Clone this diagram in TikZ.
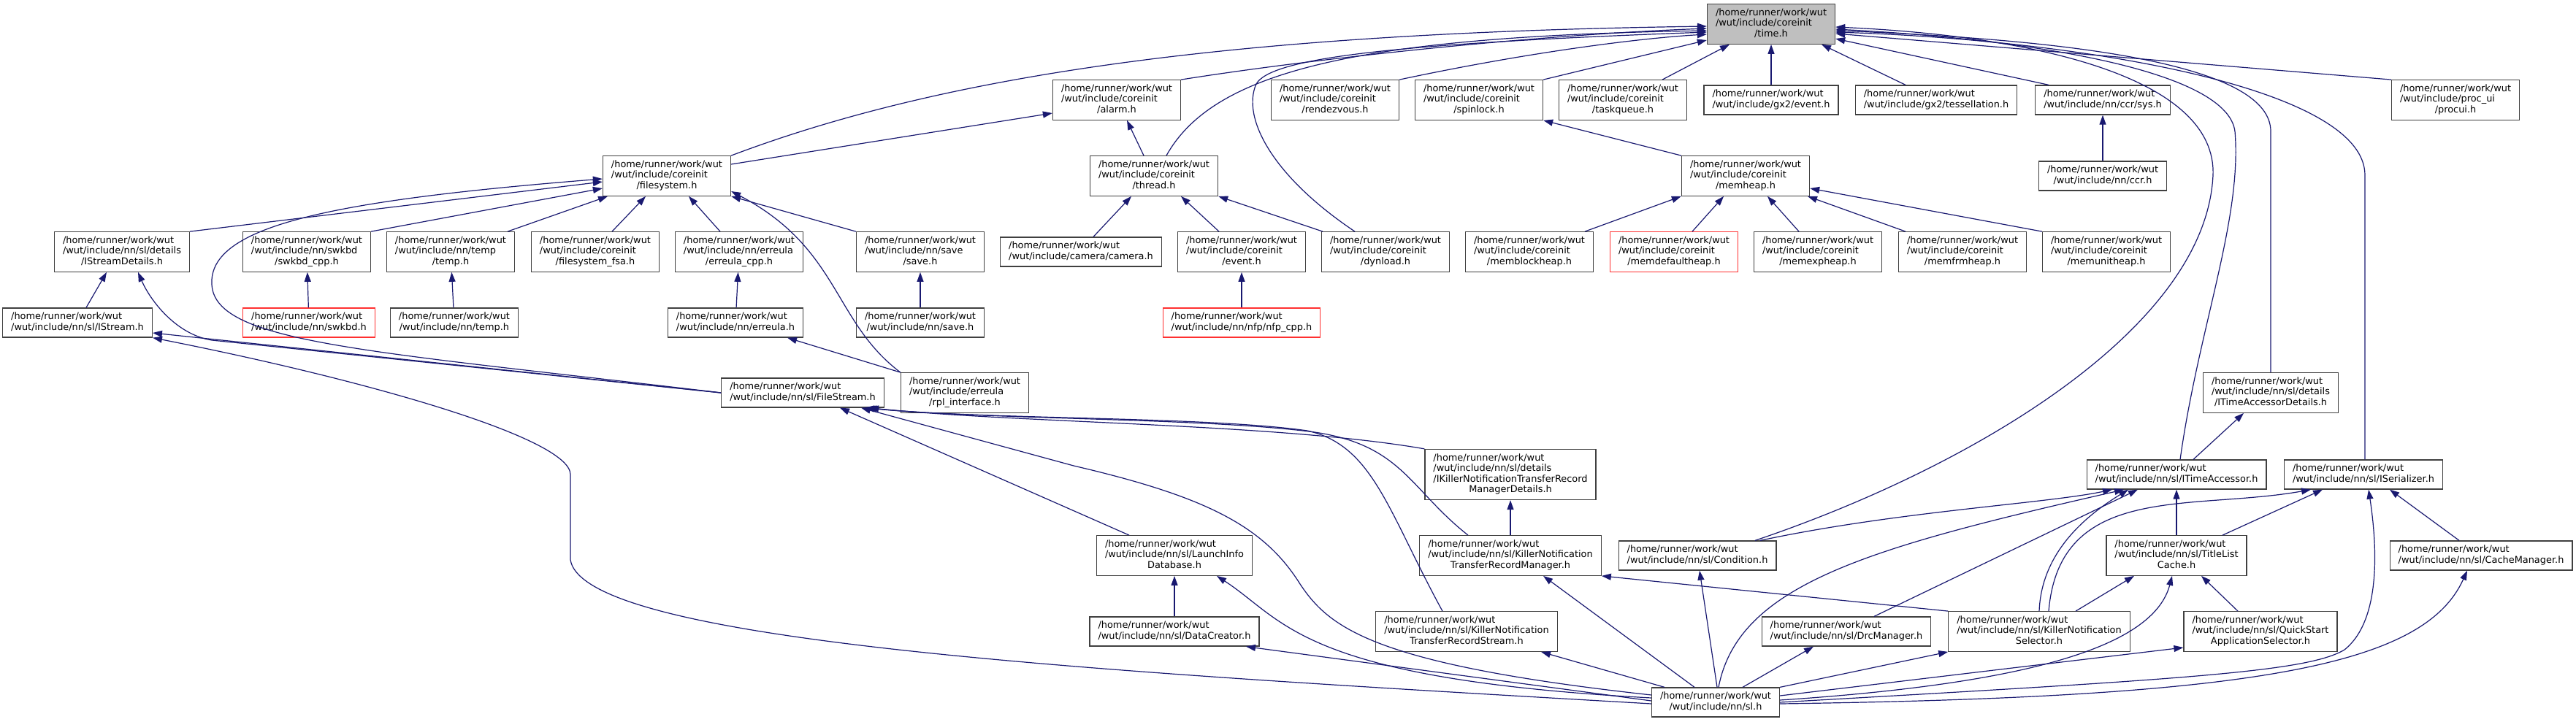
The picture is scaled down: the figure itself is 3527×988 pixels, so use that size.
\documentclass[tikz,border=0pt]{standalone}
\usepackage{fontspec}
\newfontfamily\graphfont{DejaVu Sans}
\usepackage{tikz}
\usetikzlibrary{arrows.meta}
\definecolor{edgeblue}{HTML}{191970}
\definecolor{boxgrey}{HTML}{404040}
\definecolor{maingrey}{HTML}{BFBFBF}
\definecolor{cutred}{HTML}{FF3030}
% Zeilen links, letzte Zeile zentriert
\newcommand{\flbl}[2]{\begin{tabular}{@{}l@{}}#1\\\multicolumn{1}{@{}c@{}}{#2}\end{tabular}}

\begin{document}
\begin{tikzpicture}[x=1pt,y=-1pt,
    file/.style={draw=boxgrey, line width=1.3pt, fill=white, inner xsep=11.5pt, inner ysep=5.5pt,
      font={\graphfont\fontsize{12.9pt}{14.5pt}\selectfont}},
    cutfile/.style={file, draw=cutred},
    mainfile/.style={file, fill=maingrey},
    inc/.style={draw=edgeblue, line width=1.2pt, -{Triangle[length=13pt,width=9pt,fill=edgeblue]}}]
  \useasboundingbox (0,0) rectangle (3527,988);
  % Wurzel
  \node[mainfile] (time) at (2425,33) {\flbl{/home/runner/work/wut\\/wut/include/coreinit}{/time.h}};
  % Ebene 1
  \node[file] (alarm) at (1529,137) {\flbl{/home/runner/work/wut\\/wut/include/coreinit}{/alarm.h}};
  \node[file] (rendezvous) at (1828,137) {\flbl{/home/runner/work/wut\\/wut/include/coreinit}{/rendezvous.h}};
  \node[file] (spinlock) at (2025,137) {\flbl{/home/runner/work/wut\\/wut/include/coreinit}{/spinlock.h}};
  \node[file] (taskqueue) at (2222,137) {\flbl{/home/runner/work/wut\\/wut/include/coreinit}{/taskqueue.h}};
  \node[file] (gxevent) at (2425,137) {\flbl{/home/runner/work/wut}{/wut/include/gx2/event.h}};
  \node[file] (tessel) at (2651,137) {\flbl{/home/runner/work/wut}{/wut/include/gx2/tessellation.h}};
  \node[file] (ccrsys) at (2879,137) {\flbl{/home/runner/work/wut}{/wut/include/nn/ccr/sys.h}};
  \node[file] (procui) at (3362,137) {\flbl{/home/runner/work/wut\\/wut/include/proc\_ui}{/procui.h}};
  % Ebene 2
  \node[file] (filesystem) at (913,241) {\flbl{/home/runner/work/wut\\/wut/include/coreinit}{/filesystem.h}};
  \node[file] (thread) at (1580,241) {\flbl{/home/runner/work/wut\\/wut/include/coreinit}{/thread.h}};
  \node[file] (memheap) at (2390,241) {\flbl{/home/runner/work/wut\\/wut/include/coreinit}{/memheap.h}};
  \node[file] (ccr) at (2879,241) {\flbl{/home/runner/work/wut}{/wut/include/nn/ccr.h}};
  % Ebene 3
  \node[file] (istreamdet) at (167,345) {\flbl{/home/runner/work/wut\\/wut/include/nn/sl/details}{/IStreamDetails.h}};
  \node[file] (swkbdcpp) at (420,345) {\flbl{/home/runner/work/wut\\/wut/include/nn/swkbd}{/swkbd\_cpp.h}};
  \node[file] (temptemp) at (617,345) {\flbl{/home/runner/work/wut\\/wut/include/nn/temp}{/temp.h}};
  \node[file] (fsa) at (815,345) {\flbl{/home/runner/work/wut\\/wut/include/coreinit}{/filesystem\_fsa.h}};
  \node[file] (erreulacpp) at (1012,345) {\flbl{/home/runner/work/wut\\/wut/include/nn/erreula}{/erreula\_cpp.h}};
  \node[file] (savesave) at (1260,345) {\flbl{/home/runner/work/wut\\/wut/include/nn/save}{/save.h}};
  \node[file] (camera) at (1480,345) {\flbl{/home/runner/work/wut}{/wut/include/camera/camera.h}};
  \node[file] (cevent) at (1700,345) {\flbl{/home/runner/work/wut\\/wut/include/coreinit}{/event.h}};
  \node[file] (dynload) at (1897,345) {\flbl{/home/runner/work/wut\\/wut/include/coreinit}{/dynload.h}};
  \node[file] (memblock) at (2094,345) {\flbl{/home/runner/work/wut\\/wut/include/coreinit}{/memblockheap.h}};
  \node[cutfile] (memdefault) at (2292,345) {\flbl{/home/runner/work/wut\\/wut/include/coreinit}{/memdefaultheap.h}};
  \node[file] (memexp) at (2489,345) {\flbl{/home/runner/work/wut\\/wut/include/coreinit}{/memexpheap.h}};
  \node[file] (memfrm) at (2687,345) {\flbl{/home/runner/work/wut\\/wut/include/coreinit}{/memfrmheap.h}};
  \node[file] (memunit) at (2884,345) {\flbl{/home/runner/work/wut\\/wut/include/coreinit}{/memunitheap.h}};
  % Ebene 4
  \node[file] (istream) at (106,442) {\flbl{/home/runner/work/wut}{/wut/include/nn/sl/IStream.h}};
  \node[cutfile] (swkbd) at (423,442) {\flbl{/home/runner/work/wut}{/wut/include/nn/swkbd.h}};
  \node[file] (nntemp) at (622,442) {\flbl{/home/runner/work/wut}{/wut/include/nn/temp.h}};
  \node[file] (erreula) at (1007,442) {\flbl{/home/runner/work/wut}{/wut/include/nn/erreula.h}};
  \node[file] (nnsave) at (1260,442) {\flbl{/home/runner/work/wut}{/wut/include/nn/save.h}};
  \node[cutfile] (nfpcpp) at (1700,442) {\flbl{/home/runner/work/wut}{/wut/include/nn/nfp/nfp\_cpp.h}};
  % Ebene 5
  \node[file] (filestream) at (1099,538) {\flbl{/home/runner/work/wut}{/wut/include/nn/sl/FileStream.h}};
  \node[file] (rpl) at (1321,538) {\flbl{/home/runner/work/wut\\/wut/include/erreula}{/rpl\_interface.h}};
  \node[file] (timeaccdet) at (3109,538) {\flbl{/home/runner/work/wut\\/wut/include/nn/sl/details}{/ITimeAccessorDetails.h}};
  % Ebene 6
  \node[file] (kntrmdet) at (2068,650) {\flbl{/home/runner/work/wut\\/wut/include/nn/sl/details\\/IKillerNotificationTransferRecord}{ManagerDetails.h}};
  \node[file] (timeacc) at (2980,650) {\flbl{/home/runner/work/wut}{/wut/include/nn/sl/ITimeAccessor.h}};
  \node[file] (serializer) at (3236,650) {\flbl{/home/runner/work/wut}{/wut/include/nn/sl/ISerializer.h}};
  % Ebene 7
  \node[file] (launchinfo) at (1608,761) {\flbl{/home/runner/work/wut\\/wut/include/nn/sl/LaunchInfo}{Database.h}};
  \node[file] (kntrmanager) at (2068,761) {\flbl{/home/runner/work/wut\\/wut/include/nn/sl/KillerNotification}{TransferRecordManager.h}};
  \node[file] (condition) at (2324,761) {\flbl{/home/runner/work/wut}{/wut/include/nn/sl/Condition.h}};
  \node[file] (titlelist) at (2980,761) {\flbl{/home/runner/work/wut\\/wut/include/nn/sl/TitleList}{Cache.h}};
  \node[file] (cachemanager) at (3397,761) {\flbl{/home/runner/work/wut}{/wut/include/nn/sl/CacheManager.h}};
  % Ebene 8
  \node[file] (datacreator) at (1608,865) {\flbl{/home/runner/work/wut}{/wut/include/nn/sl/DataCreator.h}};
  \node[file] (kntrstream) at (2008,865) {\flbl{/home/runner/work/wut\\/wut/include/nn/sl/KillerNotification}{TransferRecordStream.h}};
  \node[file] (drcmanager) at (2528,865) {\flbl{/home/runner/work/wut}{/wut/include/nn/sl/DrcManager.h}};
  \node[file] (knselector) at (2792,865) {\flbl{/home/runner/work/wut\\/wut/include/nn/sl/KillerNotification}{Selector.h}};
  \node[file] (quickstart) at (3095,865) {\flbl{/home/runner/work/wut\\/wut/include/nn/sl/QuickStart}{ApplicationSelector.h}};
  % Ebene 9
  \node[file] (sl) at (2349,962) {\flbl{/home/runner/work/wut}{/wut/include/nn/sl.h}};

  % Kanten nach time.h
  \draw[inc] (filesystem.north east) .. controls (1300,100) and (1700,45) .. ([yshift=-3pt]time.west);
  \draw[inc] (alarm.north east) .. controls (1800,80) and (2100,48) .. ([yshift=-6pt]time.west);
  \draw[inc] ([xshift=17pt]thread.north) .. controls (1660,100) and (1850,50) .. ([yshift=-9pt]time.west);
  \draw[inc] ([xshift=-42pt]dynload.north) .. controls (1740,240) and (1700,160) .. (1720,115)
    .. controls (1740,80) and (1900,60) .. ([yshift=-11pt]time.west);
  \draw[inc] (rendezvous.north east) .. controls (2100,70) and (2250,52) .. ([yshift=-14pt]time.west);
  \draw[inc] (spinlock.north east) -- ([yshift=-22pt]time.west);
  \draw[inc] ([xshift=54pt]taskqueue.north) -- ([xshift=-57pt]time.south);
  \draw[inc] (gxevent) -- (time);
  \draw[inc] ([xshift=-42pt]tessel.north) -- ([xshift=69pt]time.south);
  \draw[inc] ([xshift=-74pt]ccrsys.north) -- ([yshift=-20pt]time.east);
  \draw[inc] (procui.north west) -- ([yshift=-13pt]time.east);
  \draw[inc] ([xshift=79pt]condition.north) .. controls (2700,640) and (3020,450) .. (3030,240)
    .. controls (3035,110) and (2800,50) .. ([yshift=-4pt]time.east);
  \draw[inc] ([xshift=5pt]timeacc.north) .. controls (3010,450) and (3070,300) .. (3060,180)
    .. controls (3050,100) and (2800,55) .. ([yshift=-7pt]time.east);
  \draw[inc] (timeaccdet.north) -- (3109,180) .. controls (3109,90) and (2850,55) .. ([yshift=-9pt]time.east);
  \draw[inc] ([xshift=2pt]serializer.north) -- (3238,240) .. controls (3238,120) and (2850,55) .. ([yshift=-11pt]time.east);

  % alarm.h, filesystem.h, thread.h
  \draw[inc] ([yshift=16pt]filesystem.east) -- ([yshift=-18pt]alarm.west);
  \draw[inc] ([xshift=-14pt]thread.north) -- ([xshift=14pt]alarm.south);
  \draw[inc] (istreamdet.north east) -- ([yshift=-8pt]filesystem.west);
  \draw[inc] (filestream.west) .. controls (500,480) and (295,470) .. (290,390)
    .. controls (285,310) and (450,275) .. ([yshift=-4pt]filesystem.west);
  \draw[inc] (swkbdcpp.north east) -- ([yshift=-17pt]filesystem.west);
  \draw[inc] ([xshift=78pt]temptemp.north) -- ([xshift=-81pt]filesystem.south);
  \draw[inc] ([xshift=23pt]fsa.north) -- ([xshift=-29pt]filesystem.south);
  \draw[inc] ([xshift=-26pt]erreulacpp.north) -- ([xshift=30pt]filesystem.south);
  \draw[inc] (rpl.north west) .. controls (1140,440) and (1150,340) .. ([yshift=-21pt]filesystem.east);
  \draw[inc] (savesave.north west) -- (filesystem.south east);
  \draw[inc] ([xshift=17pt]camera.north) -- ([xshift=-31pt]thread.south);
  \draw[inc] ([xshift=-31pt]cevent.north) -- ([xshift=37pt]thread.south);
  \draw[inc] ([xshift=-86pt]dynload.north) -- (thread.south east);

  % memheap.h
  \draw[inc] (memheap.north west) -- (spinlock.south east);
  \draw[inc] ([xshift=76pt]memblock.north) -- (memheap.south west);
  \draw[inc] ([xshift=25pt]memdefault.north) -- ([xshift=-30pt]memheap.south);
  \draw[inc] ([xshift=-26pt]memexp.north) -- ([xshift=30pt]memheap.south);
  \draw[inc] ([xshift=-78pt]memfrm.north) -- ([xshift=85pt]memheap.south);
  \draw[inc] (memunit.north west) -- ([yshift=-17pt]memheap.east);
  \draw[inc] (ccr) -- (ccrsys);

  % einfache Paare
  \draw[inc] (swkbd) -- (swkbdcpp);
  \draw[inc] (nntemp) -- (temptemp);
  \draw[inc] (erreula) -- (erreulacpp);
  \draw[inc] (nnsave) -- (savesave);
  \draw[inc] (nfpcpp) -- (cevent);
  \draw[inc] (rpl.north west) -- ([xshift=71pt]erreula.south);
  \draw[inc] ([xshift=12pt]istream.north) -- ([xshift=-21pt]istreamdet.south);
  \draw[inc] (filestream.west) -- (290,466) .. controls (240,458) and (205,410) .. ([xshift=22pt]istreamdet.south);
  \draw[inc] (filestream.west) -- ([yshift=-14pt]istream.east);
  \draw[inc] ([yshift=-2pt]sl.west) .. controls (1500,920) and (800,880) .. (781,767) -- (781,650)
    .. controls (781,600) and (500,520) .. (istream.south east);

  % FileStream.h
  \draw[inc] ([xshift=-62pt]launchinfo.north) -- ([xshift=51pt]filestream.south);
  \draw[inc] ([yshift=10pt]sl.west) .. controls (1880,910) and (1820,860) .. (1780,800)
    .. controls (1730,720) and (1650,680) .. (1470,638) -- ([xshift=80pt]filestream.south);
  \draw[inc] ([xshift=-33pt]kntrstream.north) .. controls (1900,700) and (1880,610) .. (1790,590)
    .. controls (1650,570) and (1350,575) .. ([xshift=85pt]filestream.south);
  \draw[inc] ([xshift=-58pt]kntrmanager.north) .. controls (1930,670) and (1920,610) .. (1800,592)
    .. controls (1650,572) and (1350,575) .. ([xshift=88pt]filestream.south);
  \draw[inc] (kntrmdet.north west) .. controls (1750,580) and (1400,580) .. ([xshift=91pt]filestream.south);
  \draw[inc] (kntrmanager) -- (kntrmdet);

  % sl.h nach oben
  \draw[inc] ([xshift=-29pt]sl.north) -- ([xshift=45pt]kntrmanager.south);
  \draw[inc] (knselector.north west) -- (kntrmanager.south east);
  \draw[inc] ([xshift=2pt]sl.north) -- ([xshift=3pt]condition.south);
  \draw[inc] ([xshift=-70pt]sl.north) -- ([xshift=102pt]kntrstream.south);
  \draw[inc] ([xshift=37pt]sl.north) -- ([xshift=-45pt]drcmanager.south);
  \draw[inc] (sl.north east) -- (knselector.south west);
  \draw[inc] (datacreator) -- (launchinfo);
  \draw[inc] ([yshift=6pt]sl.west) .. controls (1780,930) and (1760,850) .. ([xshift=58pt]launchinfo.south);
  \draw[inc] ([yshift=2pt]sl.west) -- ([xshift=98pt]datacreator.south);

  % ITimeAccessor.h, ISerializer.h
  \draw[inc] (titlelist) -- (timeacc);
  \draw[inc] ([xshift=86pt]condition.north) .. controls (2600,700) and (2800,690) .. ([xshift=-88pt]timeacc.south);
  \draw[inc] ([xshift=4pt]sl.north) .. controls (2380,800) and (2560,750) .. ([xshift=-72pt]timeacc.south);
  \draw[inc] ([xshift=38pt]drcmanager.north) -- ([xshift=-53pt]timeacc.south);
  \draw[inc] (knselector.north) .. controls (2795,760) and (2850,710) .. ([xshift=-66pt]timeacc.south);
  \draw[inc] ([xshift=23pt]timeacc.north) -- ([xshift=-37pt]timeaccdet.south);
  \draw[inc] ([xshift=13pt]knselector.north) .. controls (2820,660) and (3000,700) .. ([xshift=-72pt]serializer.south);
  \draw[inc] ([xshift=63pt]titlelist.north) -- ([xshift=-56pt]serializer.south);
  \draw[inc] (sl.east) .. controls (3000,930) and (3160,920) .. (3210,890)
    .. controls (3260,850) and (3255,750) .. ([xshift=7pt]serializer.south);
  \draw[inc] ([xshift=-30pt]cachemanager.north) -- ([xshift=36pt]serializer.south);

  % TitleListCache.h, CacheManager.h, QuickStart
  \draw[inc] ([xshift=50pt]knselector.north) -- ([xshift=-58pt]titlelist.south);
  \draw[inc] ([yshift=3pt]sl.east) .. controls (2800,935) and (2950,880) .. ([xshift=-6pt]titlelist.south);
  \draw[inc] ([xshift=-31pt]quickstart.north) -- ([xshift=34pt]titlelist.south);
  \draw[inc] ([yshift=-2pt]sl.east) .. controls (3100,955) and (3320,910) .. ([xshift=-19pt]cachemanager.south);
  \draw[inc] ([yshift=9pt]sl.east) -- ([yshift=-22pt]quickstart.west);
\end{tikzpicture}
\end{document}
